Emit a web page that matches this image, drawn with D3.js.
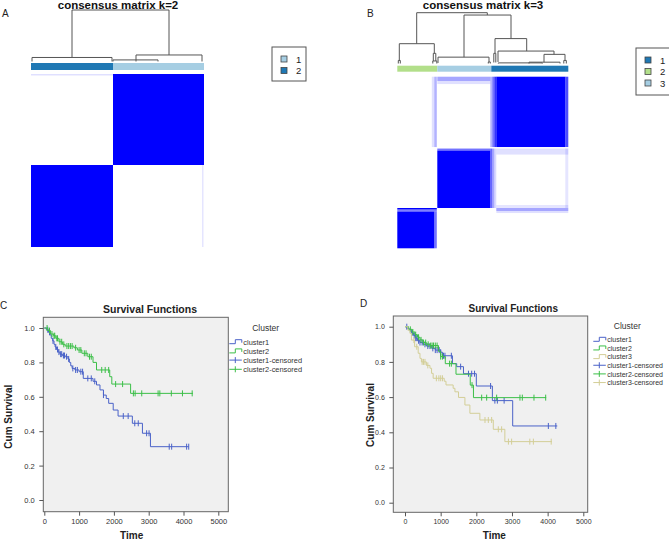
<!DOCTYPE html>
<html><head><meta charset="utf-8">
<script src="https://cdn.jsdelivr.net/npm/d3@7"></script>
<style>body{margin:0;background:#fff}svg{display:block;font-family:"Liberation Sans",Arial,sans-serif}</style>
</head><body><svg id="c" width="669" height="540"></svg>
<script>
// ---------------- data ----------------
const panelLabels = ["A", "B", "C", "D"];
const heatTitles = ["consensus matrix k=2", "consensus matrix k=3"];

// cluster colour bars (column order): [cluster, n samples]
const colGroupsA = [["2", 82], ["1", 91]];
const colGroupsB = [["2", 40], ["3", 54], ["1", 77]];
const legendKeysA = ["1", "2"];
const legendKeysB = ["1", "2", "3"];
const paletteA = {"1": "#a6cee3", "2": "#1f78b4"};
const paletteB = {"1": "#1f78b4", "2": "#b2df8a", "3": "#a6cee3"};

// consensus blocks: [rowStart,rowEnd,colStart,colEnd,consensus]
const blocksA = [
  [0, 91, 82, 173, 1], [91, 173, 0, 82, 1],
  [0, 1.5, 0, 82, 0.12], [91, 173, 171, 172.5, 0.1]
];
const blocksB = [
  [0.7, 70.5, 99, 168, 1], [0.7, 70.5, 168, 171, 0.7],
  [0.7, 70.5, 93, 95, 0.3], [0.7, 70.5, 95, 97, 0.55], [0.7, 70.5, 97, 99, 0.8],
  [0.7, 5, 40, 93, 0.35], [5, 8, 40, 93, 0.12],
  [0.7, 70.5, 34.5, 37, 0.12], [0.7, 70.5, 37, 39.5, 0.3],
  [74, 131, 40, 93, 1], [72, 74, 40, 93, 0.55],
  [72, 131, 93, 95, 0.6], [72, 131, 95, 97, 0.35], [72, 131, 97, 99, 0.15],
  [72, 78, 99, 171, 0.12], [72, 131, 168, 171, 0.1], [128, 131, 99, 171, 0.1],
  [131, 132.5, 0, 39.5, 1], [132.5, 134.5, 0, 39.5, 0.5],
  [134.5, 171, 0, 37, 1], [134.5, 171, 37, 39.5, 0.55],
  [131, 134, 99, 171, 0.35], [134, 136, 99, 171, 0.12]
];

// dendrogram merges: [leftPos, rightPos, height, leftChildHeight, rightChildHeight]
const dendroA = [
  [41, 138, 1, 0.087, 0.135], [1, 81, 0.087, 0.01, 0.01],
  [105, 171, 0.135, 0.01, 0.01], [82, 127, 0.04, 0.01, 0.01]
];
const dendroB = [
  [19.4, 90, 1, 0.39, 0.954], [2, 37, 0.39, 0.06, 0.2], [1, 3, 0.06, 0, 0],
  [36, 38.5, 0.2, 0.05, 0.05], [35.5, 39.5, 0.05, 0, 0],
  [66.7, 113.7, 0.954, 0.125, 0.49], [40.7, 91.7, 0.125, 0.01, 0.03], [91, 93, 0.03, 0, 0],
  [97.7, 129.4, 0.49, 0.2, 0.245], [96.5, 98.5, 0.2, 0.02, 0.02],
  [100.7, 156.7, 0.245, 0.03, 0.18], [146.7, 167.7, 0.18, 0.026, 0.06],
  [131.7, 162.7, 0.026, 0, 0], [166.5, 169, 0.06, 0, 0], [101, 145, 0.012, 0, 0]
];

// survival steps [time, cumulative survival] and censored times
const survC1 = [[0,1],[60,0.99],[120,0.975],[160,0.96],[200,0.94],[240,0.925],[280,0.905],[310,0.89],[350,0.875],[400,0.86],[450,0.848],[520,0.84],[600,0.833],[680,0.82],[720,0.8],[760,0.78],[800,0.765],[880,0.756],[1000,0.746],[1120,0.707],[1400,0.69],[1500,0.669],[1600,0.64],[1700,0.61],[1780,0.59],[1850,0.562],[1980,0.523],[2120,0.488],[2530,0.446],[2820,0.388],[3050,0.31],[4150,0.31]];
const censC1 = [100,150,250,330,380,420,470,500,550,580,640,700,820,900,950,1050,1100,1250,1350,1450,1700,2270,2410,2600,2700,2940,3010,3590,3660,4090,4150];
const survC2 = [[0,1],[100,0.985],[180,0.965],[260,0.955],[330,0.94],[420,0.92],[520,0.905],[600,0.895],[850,0.885],[950,0.872],[1080,0.853],[1250,0.833],[1400,0.8],[1500,0.756],[1880,0.717],[1940,0.674],[2480,0.62],[4270,0.62]];
const censC2 = [80,150,220,280,300,360,380,450,500,560,650,700,750,800,900,1000,1050,1150,1200,1300,1350,1650,1750,1850,2050,2250,2560,2610,2800,3270,3320,3650,3970,4250];

const survD1 = [[0,1],[60,0.99],[120,0.98],[180,0.965],[240,0.95],[300,0.935],[350,0.92],[420,0.91],[500,0.9],[600,0.89],[750,0.877],[850,0.867],[1000,0.855],[1050,0.835],[1330,0.79],[1450,0.773],[1640,0.733],[2000,0.663],[2450,0.58],[3020,0.436],[4270,0.436]];
const censD1 = [50,200,260,300,330,380,420,480,560,640,700,780,850,900,960,1000,1080,1120,1300,1560,1780,1870,1950,2400,2520,2590,2780,4020,4230];
const survD2 = [[0,1],[100,0.985],[200,0.97],[280,0.955],[350,0.94],[420,0.925],[500,0.91],[600,0.9],[700,0.893],[940,0.86],[1000,0.83],[1130,0.79],[1430,0.73],[1830,0.668],[1920,0.597],[3960,0.597]];
const censD2 = [150,220,300,380,450,520,580,650,720,760,800,850,900,1000,1050,1250,1300,1880,2150,2290,2570,3224,3290,3617,3945];
const survD3 = [[0,1],[80,0.98],[140,0.962],[180,0.924],[270,0.886],[370,0.849],[420,0.82],[460,0.8],[600,0.78],[700,0.764],[745,0.735],[790,0.707],[1100,0.69],[1150,0.669],[1350,0.65],[1400,0.63],[1500,0.598],[1680,0.555],[1820,0.508],[2100,0.47],[2476,0.417],[2800,0.347],[4120,0.347]];
const censD3 = [250,330,480,520,560,640,880,950,1000,1050,2243,2336,2430,2616,2710,2900,2990,3500,3600,4100];

const xTicks = [0, 1000, 2000, 3000, 4000, 5000];
const yTicks = [0, 0.2, 0.4, 0.6, 0.8, 1.0];
const legendC = ["cluster1", "cluster2", "cluster1-censored", "cluster2-censored"];
const legendD = ["cluster1", "cluster2", "cluster3", "cluster1-censored", "cluster2-censored", "cluster3-censored"];
const survColors = ["#4a62c8", "#3cbf48", "#d3ce97"];

// ---------------- drawing ----------------
const svg = d3.select("#c");
svg.append("rect").attr("width", 669).attr("height", 540).attr("fill", "#fff");

function heatPanel(o) {
  const g = svg.append("g");
  const x = d3.scaleLinear().domain([0, o.n]).range(o.xr);
  const y = d3.scaleLinear().domain([0, o.n]).range(o.yr);
  const h = d3.scaleLinear().domain([0, 1]).range(o.hr);
  g.append("text").attr("x", o.labelPos[0]).attr("y", o.labelPos[1]).attr("font-size", 10).attr("fill", "#222").text(o.label);
  g.append("text").attr("x", o.titleX).attr("y", 9).attr("text-anchor", "middle")
    .attr("font-size", 11.5).attr("font-weight", "bold").attr("fill", "#111").text(o.title);
  g.append("g").selectAll("path").data(o.dendro).join("path")
    .attr("d", d => `M${x(d[0])},${h(d[3])}V${h(d[2])}H${x(d[1])}V${h(d[4])}`)
    .attr("fill", "none").attr("stroke", "#555").attr("stroke-width", 1);
  let acc = 0;
  const bars = o.groups.map(([k, n]) => { const r = {k, s: acc, e: acc + n}; acc += n; return r; });
  g.append("g").selectAll("rect").data(bars).join("rect")
    .attr("x", d => x(d.s)).attr("width", d => x(d.e) - x(d.s))
    .attr("y", o.barY[0]).attr("height", o.barY[1] - o.barY[0])
    .attr("fill", d => o.palette[d.k]);
  g.append("g").selectAll("rect").data(o.blocks).join("rect")
    .attr("x", d => x(d[2])).attr("width", d => x(d[3]) - x(d[2]))
    .attr("y", d => y(d[0])).attr("height", d => y(d[1]) - y(d[0]))
    .attr("fill", "#0000ff").attr("fill-opacity", d => d[4]);
  const lg = g.append("g");
  lg.append("rect").attr("x", o.leg[0]).attr("y", o.leg[1]).attr("width", o.leg[2]).attr("height", o.leg[3])
    .attr("fill", "#fff").attr("stroke", "#555");
  o.keys.forEach((k, i) => {
    const yy = o.leg[1] + 12 + i * 11.5;
    lg.append("rect").attr("x", o.leg[0] + 9).attr("y", yy - 3).attr("width", 6).attr("height", 6)
      .attr("fill", o.palette[k]).attr("stroke", "#444").attr("stroke-width", 0.8);
    lg.append("text").attr("x", o.leg[0] + 24).attr("y", yy + 3.5).attr("font-size", 9.5).attr("fill", "#222").text(k);
  });
}

heatPanel({label: panelLabels[0], labelPos: [2, 17], title: heatTitles[0], titleX: 118, n: 173,
  xr: [31, 204], yr: [74, 247], hr: [62, 10], dendro: dendroA, groups: colGroupsA, palette: paletteA,
  barY: [63, 70], blocks: blocksA, keys: legendKeysA, leg: [272, 47, 34, 34]});
heatPanel({label: panelLabels[1], labelPos: [367, 17], title: heatTitles[1], titleX: 483, n: 171,
  xr: [397.3, 568.3], yr: [76, 248.3], hr: [63.5, 12.7], dendro: dendroB, groups: colGroupsB, palette: paletteB,
  barY: [65.7, 71.7], blocks: blocksB, keys: legendKeysB, leg: [636, 48, 40, 47]});

function survAt(steps, t) {
  let s = 1;
  for (const [tt, v] of steps) { if (tt <= t) s = v; }
  return s;
}

function survPanel(o) {
  const g = svg.append("g");
  const x = d3.scaleLinear().domain([0, 5000]).range(o.xr);
  const y = d3.scaleLinear().domain([0, 1]).range(o.yr);
  const [fx0, fy0, fx1, fy1] = o.frame;
  g.append("text").attr("x", o.labelPos[0]).attr("y", o.labelPos[1]).attr("font-size", 10).attr("fill", "#222").text(o.label);
  g.append("text").attr("x", o.titleX).attr("y", o.titleY).attr("text-anchor", "middle")
    .attr("font-size", o.titleSize).attr("font-weight", "bold").attr("fill", "#222").text("Survival Functions");
  g.append("rect").attr("x", fx0).attr("y", fy0).attr("width", fx1 - fx0).attr("height", fy1 - fy0)
    .attr("fill", "#f0f0f0").attr("stroke", "#666").attr("stroke-width", 1);
  const ax = g.append("g").attr("transform", `translate(${fx0},0)`)
    .call(d3.axisLeft(y).tickValues(yTicks).tickFormat(d3.format(".1f")).tickSize(4).tickPadding(4.5));
  const bx = g.append("g").attr("transform", `translate(0,${fy1})`)
    .call(d3.axisBottom(x).tickValues(xTicks).tickFormat(d3.format("d")).tickSize(4).tickPadding(3));
  [ax, bx].forEach(a => {
    a.select(".domain").remove();
    a.selectAll("line").attr("stroke", "#555");
    a.selectAll("text").attr("font-size", o.tickSize).attr("fill", "#333").attr("font-family", "Liberation Sans, Arial, sans-serif");
  });
  g.append("text").attr("transform", `translate(${o.ylabX},${o.ylabY}) rotate(-90)`).attr("text-anchor", "middle")
    .attr("font-size", 10).attr("font-weight", "bold").attr("fill", "#222").text("Cum Survival");
  g.append("text").attr("x", o.xlabX).attr("y", 539).attr("text-anchor", "middle")
    .attr("font-size", 10).attr("font-weight", "bold").attr("fill", "#222").text("Time");
  const line = d3.line().x(d => x(d[0])).y(d => y(d[1])).curve(d3.curveStepAfter);
  o.series.forEach((s, i) => {
    g.append("path").attr("d", line(s.steps)).attr("fill", "none").attr("stroke", survColors[i]).attr("stroke-width", 1);
    g.append("g").selectAll("line").data(s.cens).join("line")
      .attr("x1", t => x(t)).attr("x2", t => x(t))
      .attr("y1", t => y(survAt(s.steps, t)) - 3).attr("y2", t => y(survAt(s.steps, t)) + 3)
      .attr("stroke", survColors[i]).attr("stroke-width", 1);
  });
  const lg = g.append("g");
  lg.append("text").attr("x", o.legTitle[0]).attr("y", o.legTitle[1]).attr("text-anchor", "middle")
    .attr("font-size", 8.5).attr("fill", "#333").text("Cluster");
  const nS = o.series.length;
  o.legend.forEach((name, i) => {
    const yy = o.leg[1] + i * o.leg[2];
    const c = survColors[i % nS];
    const x0 = o.leg[0], x1 = o.leg[0] + 12.5;
    if (i < nS) {
      lg.append("path").attr("d", `M${x0},${yy + 2}H${x0 + 6}V${yy - 2}H${x1}V${yy + 1}`)
        .attr("fill", "none").attr("stroke", c).attr("stroke-width", 1);
    } else {
      lg.append("path").attr("d", `M${x0},${yy}H${x1}M${x0 + 6},${yy - 3}V${yy + 3}`)
        .attr("fill", "none").attr("stroke", c).attr("stroke-width", 1);
    }
    lg.append("text").attr("x", x1 + 1.5).attr("y", yy + 2.8).attr("font-size", o.legSize).attr("fill", "#333").text(name);
  });
}

survPanel({label: panelLabels[2], labelPos: [0, 309], titleX: 150, titleY: 313, titleSize: 10.5,
  frame: [43.3, 317.3, 228.3, 511.7], xr: [44.3, 218.3], yr: [500, 328], tickSize: 7.5,
  ylabX: 12, ylabY: 416.7, xlabX: 131.7,
  series: [{steps: survC1, cens: censC1}, {steps: survC2, cens: censC2}],
  legend: legendC, legTitle: [265.7, 331], leg: [229.3, 341.7, 9.2], legSize: 7.4});
survPanel({label: panelLabels[3], labelPos: [360, 307], titleX: 513.3, titleY: 312, titleSize: 10,
  frame: [393.3, 316, 587.7, 512.3], xr: [405, 583.3], yr: [502.7, 326.7], tickSize: 7,
  ylabX: 374, ylabY: 415, xlabX: 494.3,
  series: [{steps: survD1, cens: censD1}, {steps: survD2, cens: censD2}, {steps: survD3, cens: censD3}],
  legend: legendD, legTitle: [627.3, 329], leg: [593.3, 339.3, 8.65], legSize: 7});
</script></body></html>
